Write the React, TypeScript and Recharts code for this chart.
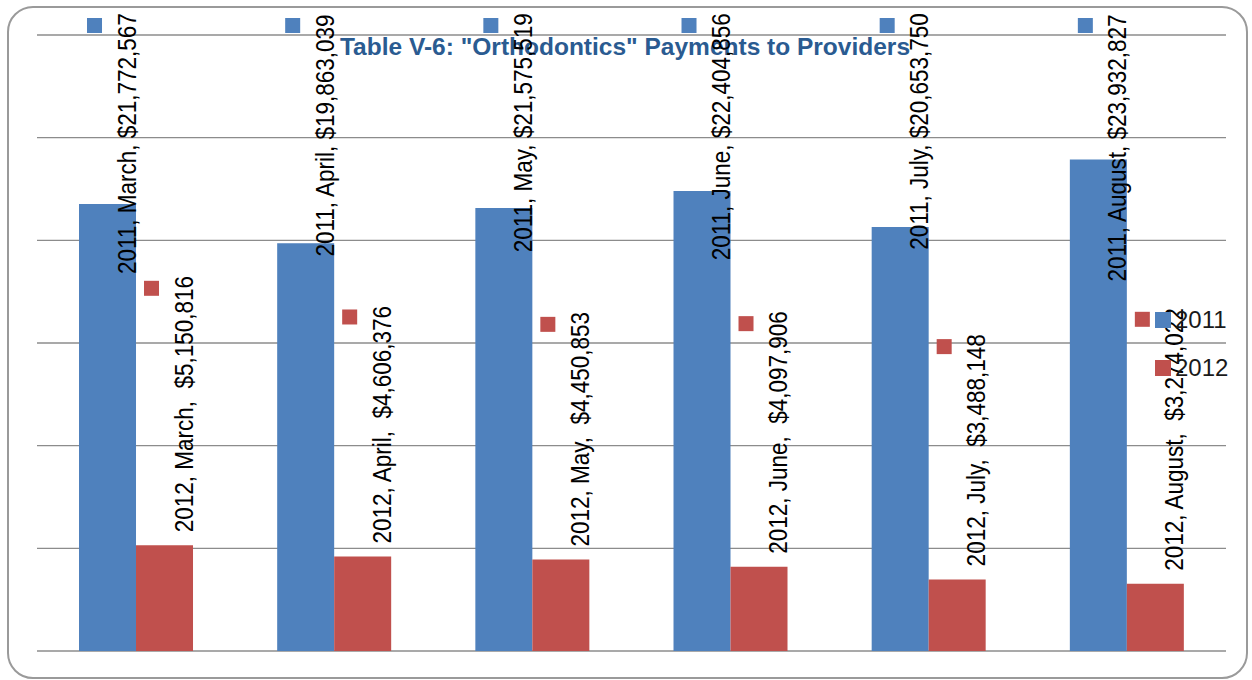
import React from 'react';
import { BarChart, Bar, XAxis, YAxis, CartesianGrid, Legend, LabelList } from 'recharts';

// Monthly orthodontics payments, two years side by side
const months = ['March', 'April', 'May', 'June', 'July', 'August'];
const pay2011 = [21772567, 19863039, 21575519, 22404856, 20653750, 23932827];
const pay2012 = [5150816, 4606376, 4450853, 4097906, 3488148, 3274022];
const yTicks = [0, 5000000, 10000000, 15000000, 20000000, 25000000, 30000000];
const seriesNames = ['2011', '2012'];
const seriesColors = ['#4F81BD', '#C0504D'];

const data = months.map((m, i) => ({ month: m, y2011: pay2011[i], y2012: pay2012[i] }));

const W = 1252;
const H = 680;
const LABEL_FONT = '25px "Liberation Sans"';
const LABEL_SQUEEZE = 0.9;
const TOP_LIMIT = 13;

let ctx: CanvasRenderingContext2D | null = null;
const measure = (s: string) => {
  if (!ctx) ctx = document.createElement('canvas').getContext('2d');
  if (!ctx) return s.length * 13;
  ctx.font = LABEL_FONT;
  return ctx.measureText(s).width;
};

const money = (v: number) => '$' + v.toLocaleString('en-US');

const makeLabel = (year: string, color: string, sep: string) => (props: any) => {
  const vb = props.viewBox && props.viewBox.width != null ? props.viewBox : props;
  const x = Number(vb.x);
  const y = Number(vb.y);
  const w = Number(vb.width);
  const h = Number(vb.height);
  const idx = props.index ?? 0;
  const value = Number(props.value);
  const barTop = Math.min(y, y + h);
  const text = `${year}, ${months[idx]},${sep}${money(value)}`;
  const len = measure(text) * LABEL_SQUEEZE;
  let bottom = barTop - 13;
  let top = bottom - len;
  if (top < TOP_LIMIT) {
    top = TOP_LIMIT;
    bottom = top + len;
  }
  const bx = x + w - 0.5;
  return (
    <g>
      <rect x={x + 8} y={top + 5} width={15} height={15} fill={color} />
      <g transform={`translate(${bx},${bottom}) rotate(-90) scale(${LABEL_SQUEEZE},1)`}>
        <text x={0} y={0} textAnchor="start" fontFamily="Liberation Sans" fontSize={25} fill="#000">
          {text}
        </text>
      </g>
    </g>
  );
};

const LegendBox = () => (
  <div style={{ fontFamily: '"Liberation Sans"', fontSize: 24, color: '#1a1a1a' }}>
    {seriesNames.map((n, i) => (
      <div key={n} style={{ display: 'flex', alignItems: 'center', height: 48 }}>
        <span style={{ width: 16, height: 16, background: seriesColors[i], marginRight: 4, display: 'inline-block' }} />
        <span style={{ lineHeight: '24px' }}>{n}</span>
      </div>
    ))}
  </div>
);

export default function App() {
  return (
    <div style={{ position: 'absolute', left: 0, top: 0, width: W, height: H, background: '#fff', overflow: 'hidden' }}>
      <div
        style={{
          position: 'absolute',
          left: 7,
          top: 6,
          width: 1241,
          height: 673,
          border: '2px solid #9a9a9a',
          borderRadius: 26,
          boxSizing: 'border-box',
        }}
      />
      <div
        style={{
          position: 'absolute',
          left: 0,
          top: 35,
          width: 1250,
          textAlign: 'center',
          fontFamily: '"Liberation Sans"',
          fontWeight: 'bold',
          fontSize: 24.5,
          lineHeight: '24px',
          color: '#2A5B91',
          whiteSpace: 'nowrap',
        }}
      >
        Table V-6: "Orthodontics" Payments to Providers
      </div>
      <div style={{ position: 'absolute', left: 0, top: 0 }}>
        <BarChart
          width={W}
          height={H}
          data={data}
          margin={{ top: 35, right: 26, bottom: 29, left: 37 }}
          barCategoryGap="21.2%"
          barGap={0}
        >
          <CartesianGrid vertical={false} stroke="#8c8c8c" strokeWidth={1.3} />
          <XAxis dataKey="month" hide />
          <YAxis type="number" domain={[0, 30000000]} ticks={yTicks} hide />
          <Bar dataKey="y2011" name="2011" fill={seriesColors[0]} isAnimationActive={false}>
            <LabelList dataKey="y2011" content={makeLabel('2011', seriesColors[0], ' ')} />
          </Bar>
          <Bar dataKey="y2012" name="2012" fill={seriesColors[1]} isAnimationActive={false}>
            <LabelList dataKey="y2012" content={makeLabel('2012', seriesColors[1], '\u00A0 ')} />
          </Bar>
          <Legend
            layout="vertical"
            align="center"
            verticalAlign="middle"
            content={<LegendBox />}
            wrapperStyle={{ left: 1155, top: 296, width: 90, height: 96 }}
          />
        </BarChart>
      </div>
    </div>
  );
}
